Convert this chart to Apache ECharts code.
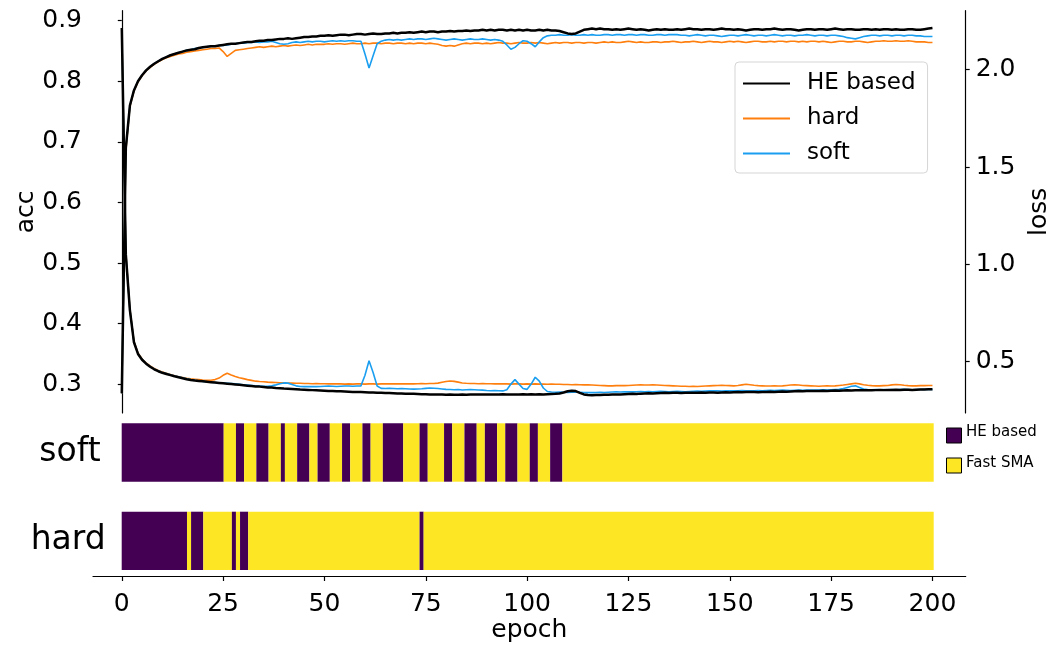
<!DOCTYPE html>
<html>
<head>
<meta charset="utf-8">
<script src="https://cdn.jsdelivr.net/npm/echarts@6/dist/echarts.min.js"></script>
<style>
html, body { margin: 0; padding: 0; background: #fff; }
#container { width: 1050px; height: 645px; }
</style>
</head>
<body>
<div id="container"></div>
<script>
// acc per epoch (0..200)
var accHE = [
    0.285, 0.690, 0.760, 0.785, 0.800, 0.810, 0.818, 0.824, 0.829, 0.833,
    0.837, 0.840, 0.843, 0.845, 0.847, 0.849, 0.851, 0.852, 0.853, 0.855,
    0.856, 0.857, 0.858, 0.858, 0.859, 0.860, 0.861, 0.862, 0.862, 0.863,
    0.864, 0.865, 0.865, 0.866, 0.867, 0.867, 0.868, 0.868, 0.869, 0.870,
    0.870, 0.871, 0.870, 0.871, 0.872, 0.873, 0.873, 0.874, 0.874, 0.875,
    0.875, 0.876, 0.875, 0.876, 0.877, 0.877, 0.876, 0.877, 0.878, 0.878,
    0.877, 0.878, 0.879, 0.878, 0.878, 0.879, 0.879, 0.880, 0.879, 0.880,
    0.880, 0.881, 0.880, 0.881, 0.882, 0.881, 0.882, 0.882, 0.881, 0.882,
    0.882, 0.883, 0.882, 0.883, 0.883, 0.884, 0.883, 0.884, 0.884, 0.885,
    0.884, 0.885, 0.884, 0.885, 0.885, 0.884, 0.885, 0.884, 0.885, 0.884,
    0.885, 0.884, 0.884, 0.885, 0.884, 0.885, 0.884, 0.884, 0.883, 0.881,
    0.879, 0.878, 0.879, 0.882, 0.885, 0.886, 0.887, 0.886, 0.887, 0.886,
    0.886, 0.885, 0.886, 0.885, 0.886, 0.887, 0.886, 0.885, 0.886, 0.885,
    0.884, 0.885, 0.886, 0.885, 0.886, 0.885, 0.885, 0.886, 0.885, 0.886,
    0.887, 0.886, 0.886, 0.885, 0.886, 0.886, 0.885, 0.886, 0.887, 0.886,
    0.886, 0.885, 0.886, 0.885, 0.884, 0.885, 0.886, 0.886, 0.885, 0.886,
    0.886, 0.887, 0.886, 0.885, 0.886, 0.886, 0.885, 0.884, 0.885, 0.886,
    0.886, 0.885, 0.886, 0.886, 0.885, 0.886, 0.887, 0.886, 0.885, 0.886,
    0.886, 0.885, 0.885, 0.886, 0.886, 0.885, 0.886, 0.885, 0.886, 0.886,
    0.885, 0.886, 0.885, 0.885, 0.886, 0.886, 0.885, 0.885, 0.886, 0.887,
    0.888
];
var accHard = [
    0.285, 0.685, 0.758, 0.784, 0.799, 0.809, 0.817, 0.823, 0.828, 0.832,
    0.836, 0.839, 0.841, 0.843, 0.845, 0.846, 0.848, 0.849, 0.850, 0.851,
    0.852, 0.853, 0.854, 0.854, 0.855, 0.849, 0.841, 0.846, 0.851, 0.852,
    0.853, 0.854, 0.855, 0.856, 0.857, 0.856, 0.857, 0.858, 0.857, 0.858,
    0.859, 0.858, 0.859, 0.860, 0.859, 0.860, 0.861, 0.860, 0.861, 0.861,
    0.861, 0.862, 0.861, 0.862, 0.862, 0.861, 0.862, 0.863, 0.862, 0.862,
    0.863, 0.862, 0.863, 0.863, 0.862, 0.863, 0.863, 0.862, 0.863, 0.863,
    0.862, 0.863, 0.862, 0.863, 0.863, 0.862, 0.863, 0.862, 0.861, 0.859,
    0.858, 0.859, 0.858, 0.860, 0.862, 0.863, 0.862, 0.863, 0.863, 0.862,
    0.863, 0.862, 0.863, 0.864, 0.863, 0.863, 0.862, 0.863, 0.864, 0.863,
    0.863, 0.864, 0.863, 0.864, 0.863, 0.862, 0.863, 0.864, 0.863, 0.864,
    0.864, 0.863, 0.864, 0.864, 0.863, 0.864, 0.864, 0.863, 0.864, 0.865,
    0.864, 0.865, 0.864, 0.864, 0.865, 0.866, 0.865, 0.864, 0.865, 0.864,
    0.864, 0.865, 0.865, 0.864, 0.865, 0.865, 0.866, 0.865, 0.864, 0.865,
    0.865, 0.866, 0.865, 0.864, 0.865, 0.866, 0.865, 0.865, 0.864, 0.865,
    0.866, 0.865, 0.866, 0.865, 0.864, 0.865, 0.866, 0.866, 0.865, 0.865,
    0.866, 0.865, 0.866, 0.866, 0.865, 0.866, 0.866, 0.865, 0.866, 0.865,
    0.866, 0.866, 0.865, 0.866, 0.865, 0.864, 0.865, 0.866, 0.866, 0.865,
    0.865, 0.866, 0.866, 0.865, 0.864, 0.865, 0.866, 0.866, 0.867, 0.866,
    0.866, 0.867, 0.866, 0.866, 0.867, 0.866, 0.865, 0.865, 0.865, 0.864,
    0.864
];
var accSoft = [
    0.285, 0.688, 0.759, 0.785, 0.800, 0.810, 0.818, 0.824, 0.829, 0.833,
    0.837, 0.840, 0.843, 0.845, 0.847, 0.849, 0.851, 0.852, 0.854, 0.855,
    0.856, 0.857, 0.858, 0.858, 0.859, 0.859, 0.860, 0.861, 0.862, 0.863,
    0.863, 0.864, 0.864, 0.865, 0.864, 0.865, 0.865, 0.866, 0.864, 0.862,
    0.861, 0.862, 0.864, 0.865, 0.864, 0.865, 0.866, 0.865, 0.866, 0.866,
    0.865, 0.866, 0.867, 0.866, 0.867, 0.866, 0.867, 0.867, 0.866, 0.866,
    0.845, 0.822, 0.842, 0.862, 0.866, 0.868, 0.869, 0.868, 0.869, 0.868,
    0.869, 0.870, 0.869, 0.870, 0.870, 0.869, 0.870, 0.871, 0.870, 0.869,
    0.868, 0.869, 0.870, 0.869, 0.868, 0.869, 0.870, 0.869, 0.869, 0.870,
    0.869, 0.868, 0.869, 0.868, 0.866, 0.860, 0.853, 0.856, 0.862, 0.867,
    0.866, 0.862, 0.857, 0.865, 0.872, 0.875, 0.876, 0.876, 0.877, 0.876,
    0.876, 0.877, 0.876, 0.876, 0.877, 0.876, 0.877, 0.876, 0.876, 0.877,
    0.877, 0.876, 0.877, 0.877, 0.876, 0.877, 0.877, 0.876, 0.877, 0.877,
    0.876, 0.876, 0.877, 0.877, 0.876, 0.877, 0.877, 0.877, 0.876, 0.876,
    0.875, 0.876, 0.877, 0.876, 0.875, 0.876, 0.876, 0.875, 0.874, 0.875,
    0.876, 0.876, 0.875, 0.876, 0.877, 0.876, 0.875, 0.876, 0.876, 0.875,
    0.876, 0.877, 0.876, 0.875, 0.876, 0.876, 0.875, 0.876, 0.876, 0.877,
    0.876, 0.875, 0.876, 0.876, 0.875, 0.876, 0.876, 0.875, 0.874, 0.872,
    0.871, 0.870, 0.872, 0.874, 0.875, 0.876, 0.876, 0.875, 0.876, 0.876,
    0.875, 0.876, 0.876, 0.875, 0.876, 0.876, 0.875, 0.875, 0.874, 0.874,
    0.874
];

// loss per epoch (0..200)
var lossHE = [
    2.214, 1.050, 0.765, 0.600, 0.540, 0.510, 0.490, 0.474, 0.461, 0.451,
    0.443, 0.437, 0.431, 0.425, 0.420, 0.415, 0.410, 0.406, 0.403, 0.401,
    0.399, 0.397, 0.395, 0.393, 0.391, 0.389, 0.387, 0.385, 0.383, 0.381,
    0.379, 0.377, 0.375, 0.373, 0.372, 0.370, 0.368, 0.367, 0.365, 0.364,
    0.362, 0.361, 0.360, 0.359, 0.357, 0.356, 0.355, 0.354, 0.353, 0.352,
    0.351, 0.350, 0.349, 0.348, 0.348, 0.347, 0.346, 0.345, 0.344, 0.344,
    0.343, 0.342, 0.342, 0.341, 0.340, 0.339, 0.339, 0.338, 0.337, 0.337,
    0.336, 0.335, 0.335, 0.334, 0.333, 0.333, 0.332, 0.332, 0.331, 0.331,
    0.330, 0.331, 0.330, 0.330, 0.331, 0.330, 0.331, 0.332, 0.331, 0.331,
    0.332, 0.331, 0.331, 0.332, 0.333, 0.332, 0.332, 0.331, 0.332, 0.333,
    0.332, 0.333, 0.332, 0.333, 0.332, 0.333, 0.334, 0.335, 0.337, 0.342,
    0.348, 0.351, 0.349, 0.340, 0.332, 0.329, 0.328, 0.329, 0.329, 0.330,
    0.330, 0.331, 0.332, 0.332, 0.333, 0.334, 0.335, 0.334, 0.336, 0.337,
    0.338, 0.337, 0.338, 0.339, 0.340, 0.339, 0.340, 0.340, 0.339, 0.340,
    0.341, 0.340, 0.341, 0.342, 0.341, 0.342, 0.342, 0.341, 0.342, 0.343,
    0.342, 0.343, 0.344, 0.343, 0.344, 0.345, 0.344, 0.343, 0.344, 0.345,
    0.346, 0.345, 0.346, 0.347, 0.346, 0.347, 0.348, 0.349, 0.348, 0.349,
    0.350, 0.349, 0.350, 0.351, 0.350, 0.351, 0.352, 0.351, 0.352, 0.353,
    0.352, 0.353, 0.354, 0.353, 0.354, 0.353, 0.354, 0.355, 0.354, 0.355,
    0.355, 0.356, 0.355, 0.356, 0.356, 0.355, 0.356, 0.357, 0.357, 0.358,
    0.359
];
var lossHard = [
    2.214, 1.060, 0.770, 0.605, 0.545, 0.514, 0.494, 0.478, 0.465, 0.455,
    0.447, 0.440, 0.434, 0.428, 0.423, 0.419, 0.415, 0.412, 0.410, 0.408,
    0.406, 0.405, 0.405, 0.408, 0.416, 0.430, 0.441, 0.432, 0.424, 0.418,
    0.413, 0.408, 0.404, 0.400, 0.398, 0.397, 0.395, 0.394, 0.393, 0.392,
    0.391, 0.390, 0.390, 0.389, 0.389, 0.388, 0.388, 0.387, 0.388, 0.387,
    0.387, 0.386, 0.387, 0.386, 0.386, 0.385, 0.386, 0.385, 0.386, 0.386,
    0.385, 0.386, 0.386, 0.385, 0.386, 0.386, 0.387, 0.386, 0.386, 0.387,
    0.386, 0.387, 0.386, 0.387, 0.388, 0.387, 0.388, 0.388, 0.390, 0.394,
    0.398, 0.401, 0.399, 0.395, 0.391, 0.389, 0.388, 0.388, 0.387, 0.388,
    0.387, 0.387, 0.386, 0.387, 0.386, 0.386, 0.385, 0.386, 0.386, 0.385,
    0.386, 0.385, 0.386, 0.385, 0.385, 0.384, 0.385, 0.384, 0.384, 0.383,
    0.383, 0.382, 0.383, 0.382, 0.381, 0.381, 0.380, 0.379, 0.378, 0.377,
    0.376, 0.376, 0.377, 0.378, 0.377, 0.378, 0.379, 0.380, 0.381, 0.380,
    0.380, 0.381, 0.380, 0.379, 0.378, 0.377, 0.376, 0.375, 0.374, 0.374,
    0.373, 0.374, 0.373, 0.374, 0.375, 0.376, 0.377, 0.378, 0.379, 0.378,
    0.377, 0.376, 0.378, 0.381, 0.384, 0.382, 0.379, 0.377, 0.376, 0.375,
    0.375, 0.376, 0.375, 0.376, 0.378, 0.380, 0.382, 0.380, 0.378, 0.377,
    0.376, 0.375, 0.374, 0.375, 0.376, 0.375, 0.376, 0.378, 0.380, 0.383,
    0.386, 0.389, 0.386, 0.382, 0.379, 0.377, 0.376, 0.376, 0.377, 0.378,
    0.381, 0.383, 0.382, 0.379, 0.377, 0.376, 0.376, 0.377, 0.377, 0.378,
    0.378
];
var lossSoft = [
    2.214, 1.055, 0.768, 0.602, 0.542, 0.512, 0.492, 0.476, 0.463, 0.453,
    0.445, 0.439, 0.433, 0.427, 0.422, 0.417, 0.412, 0.408, 0.405, 0.402,
    0.399, 0.397, 0.395, 0.393, 0.391, 0.390, 0.389, 0.388, 0.386, 0.384,
    0.382, 0.380, 0.378, 0.376, 0.375, 0.374, 0.374, 0.376, 0.381, 0.387,
    0.391, 0.390, 0.383, 0.376, 0.373, 0.372, 0.373, 0.372, 0.372, 0.373,
    0.374, 0.375, 0.374, 0.373, 0.374, 0.375, 0.375, 0.374, 0.375, 0.376,
    0.430, 0.505, 0.445, 0.375, 0.363, 0.362, 0.363, 0.362, 0.361, 0.362,
    0.361, 0.360, 0.359, 0.360, 0.361, 0.363, 0.365, 0.364, 0.362, 0.360,
    0.358, 0.357, 0.356, 0.357, 0.355, 0.356, 0.357, 0.356, 0.355, 0.354,
    0.352, 0.351, 0.352, 0.351, 0.350, 0.356, 0.385, 0.408, 0.385, 0.362,
    0.358, 0.385, 0.420, 0.400, 0.365, 0.347, 0.344, 0.343, 0.344, 0.343,
    0.342, 0.343, 0.344, 0.343, 0.342, 0.341, 0.341, 0.342, 0.343, 0.342,
    0.343, 0.344, 0.345, 0.344, 0.345, 0.346, 0.345, 0.346, 0.347, 0.346,
    0.347, 0.346, 0.347, 0.348, 0.347, 0.346, 0.347, 0.348, 0.347, 0.346,
    0.347, 0.348, 0.349, 0.348, 0.349, 0.350, 0.351, 0.350, 0.349, 0.350,
    0.351, 0.350, 0.351, 0.352, 0.351, 0.350, 0.351, 0.352, 0.351, 0.352,
    0.353, 0.352, 0.353, 0.354, 0.353, 0.352, 0.353, 0.354, 0.353, 0.354,
    0.355, 0.354, 0.355, 0.356, 0.355, 0.356, 0.357, 0.358, 0.362, 0.368,
    0.374, 0.376, 0.368, 0.360, 0.357, 0.356, 0.357, 0.356, 0.357, 0.356,
    0.357, 0.356, 0.357, 0.358, 0.357, 0.356, 0.357, 0.357, 0.358, 0.357,
    0.358
];

// epochs where the "HE based" branch was chosen, as [start, end) runs
var softHERuns = [[0, 25], [28, 30], [33, 36], [39, 40], [43, 46], [48, 51], [54, 56], [59, 61],
    [64, 69], [73, 75], [79, 81], [84, 87], [89, 92], [94, 97], [100, 102], [105, 108]];
var hardHERuns = [[0, 16], [17, 20], [27, 28], [29, 31], [73, 74]];
var nCells = 199;

var epochTicks = [0, 25, 50, 75, 100, 125, 150, 175, 200];
var accTicks = [0.3, 0.4, 0.5, 0.6, 0.7, 0.8, 0.9];
var lossTicks = [0.5, 1.0, 1.5, 2.0];

var FONT = 'DejaVu Sans';
var PURPLE = '#440154';
var YELLOW = '#fde725';
var colors = { 'HE based': '#000000', 'hard': '#ff7f0e', 'soft': '#1a9ef0' };

// fill gaps between HE runs with the other state (1 = Fast SMA)
function toRuns(heRuns) {
    var out = [];
    var pos = 0;
    heRuns.forEach(function (r) {
        if (r[0] > pos) out.push([pos, r[0], 1, 0]);
        out.push([r[0], r[1], 0, 0]);
        pos = r[1];
    });
    if (pos < nCells) out.push([pos, nCells, 1, 0]);
    return out;
}

function renderRun(params, api) {
    var a = api.coord([api.value(0), api.value(3)]);
    var b = api.coord([api.value(1), api.value(3)]);
    var h = api.size([0, 1])[1];
    return {
        type: 'rect',
        shape: { x: a[0], y: a[1] - h / 2, width: b[0] - a[0], height: h },
        style: { fill: api.value(2) === 0 ? PURPLE : YELLOW }
    };
}

function pairs(arr) {
    return arr.map(function (v, i) { return [i, v]; });
}

function lineSeries(name, arr, yIndex) {
    return {
        name: name,
        type: 'line',
        xAxisIndex: 0,
        yAxisIndex: yIndex,
        data: pairs(arr),
        symbol: 'none',
        lineStyle: { color: colors[name], width: name === 'HE based' ? 2.5 : 1.6 },
        itemStyle: { color: colors[name] },
        z: name === 'HE based' ? 3 : 2
    };
}

var axisLineStyle = { color: '#000', width: 1.2 };

var dom = document.getElementById("container");
var myChart = echarts.init(dom);
var option = {
    animation: false,
    textStyle: { fontFamily: FONT },
    grid: [
        { left: 93, right: 84.3, top: 10.7, height: 402.3, outerBoundsMode: 'none', containLabel: false },
        { left: 121.7, width: 812, top: 423.3, height: 58.4, outerBoundsMode: 'none', containLabel: false },
        { left: 121.7, width: 812, top: 511.7, height: 58.3, outerBoundsMode: 'none', containLabel: false },
        { left: 93, right: 84.3, top: 575, height: 1, outerBoundsMode: 'none', containLabel: false }
    ],
    legend: {
        data: ['HE based', 'hard', 'soft'],
        orient: 'vertical',
        left: 735,
        top: 62,
        padding: [10, 12, 8, 8],
        icon: 'rect',
        itemWidth: 47,
        itemHeight: 2,
        itemGap: 12,
        borderColor: '#d5d5d5',
        borderWidth: 1,
        borderRadius: 4,
        backgroundColor: '#fff',
        textStyle: { fontSize: 23, color: '#000', fontFamily: FONT, padding: [0, 0, 0, 12] }
    },
    xAxis: [
        { gridIndex: 0, type: 'value', min: -7.1, max: 208.2, show: false },
        { gridIndex: 1, type: 'value', min: 0, max: nCells, show: false },
        { gridIndex: 2, type: 'value', min: 0, max: nCells, show: false },
        {
            gridIndex: 3, type: 'value', min: -7.1, max: 208.2, position: 'bottom',
            axisLine: { show: true, onZero: false, lineStyle: axisLineStyle },
            axisTick: { show: true, length: 5, customValues: epochTicks, lineStyle: axisLineStyle },
            axisLabel: { customValues: epochTicks, fontSize: 25, color: '#000', margin: 16, fontFamily: FONT },
            splitLine: { show: false },
            name: 'epoch', nameLocation: 'middle', nameGap: 40,
            nameTextStyle: { fontSize: 25, color: '#000', fontFamily: FONT }
        }
    ],
    yAxis: [
        {
            gridIndex: 0, type: 'value', min: 0.2526, max: 0.9165, position: 'left',
            axisLine: { show: true, lineStyle: axisLineStyle },
            axisTick: { show: true, length: 4, customValues: accTicks, lineStyle: axisLineStyle },
            axisLabel: {
                customValues: accTicks, fontSize: 25, color: '#000', margin: 11, fontFamily: FONT,
                formatter: function (v) { return v.toFixed(1); }
            },
            splitLine: { show: false },
            name: 'acc', nameLocation: 'middle', nameRotate: 90, nameGap: 54, nameMoveOverlap: false,
            nameTextStyle: { fontSize: 25, color: '#000', fontFamily: FONT }
        },
        {
            gridIndex: 0, type: 'value', min: 0.2365, max: 2.303, position: 'right',
            axisLine: { show: true, lineStyle: axisLineStyle },
            axisTick: { show: true, length: 4, customValues: lossTicks, lineStyle: axisLineStyle },
            axisLabel: {
                customValues: lossTicks, fontSize: 25, color: '#000', margin: 10, fontFamily: FONT,
                formatter: function (v) { return v.toFixed(1); }
            },
            splitLine: { show: false },
            name: 'loss', nameLocation: 'middle', nameRotate: 90, nameGap: 61,
            nameTextStyle: { fontSize: 25, color: '#000', fontFamily: FONT }
        },
        {
            gridIndex: 1, type: 'category', data: ['soft'],
            axisLine: { show: false }, axisTick: { show: false },
            axisLabel: { fontSize: 33, color: '#000', margin: 21, fontFamily: FONT }
        },
        {
            gridIndex: 2, type: 'category', data: ['hard'],
            axisLine: { show: false }, axisTick: { show: false },
            axisLabel: { fontSize: 33, color: '#000', margin: 16, fontFamily: FONT }
        },
        { gridIndex: 3, type: 'value', show: false }
    ],
    graphic: [
        { type: 'rect', left: 946, top: 427.5, shape: { width: 15, height: 15 }, style: { fill: PURPLE, stroke: '#000', lineWidth: 1 } },
        { type: 'text', left: 966, top: 425, style: { text: 'HE based', font: '15px "DejaVu Sans"', fill: '#000' } },
        { type: 'rect', left: 946, top: 457.5, shape: { width: 15, height: 15 }, style: { fill: YELLOW, stroke: '#000', lineWidth: 1 } },
        { type: 'text', left: 966, top: 455.5, style: { text: 'Fast SMA', font: '15px "DejaVu Sans"', fill: '#000' } }
    ],
    series: [
        lineSeries('HE based', accHE, 0),
        lineSeries('hard', accHard, 0),
        lineSeries('soft', accSoft, 0),
        lineSeries('HE based', lossHE, 1),
        lineSeries('hard', lossHard, 1),
        lineSeries('soft', lossSoft, 1),
        {
            name: 'soft choice', type: 'custom', xAxisIndex: 1, yAxisIndex: 2,
            data: toRuns(softHERuns), encode: { x: [0, 1], y: 3 }, renderItem: renderRun
        },
        {
            name: 'hard choice', type: 'custom', xAxisIndex: 2, yAxisIndex: 3,
            data: toRuns(hardHERuns), encode: { x: [0, 1], y: 3 }, renderItem: renderRun
        }
    ]
};

if (option && typeof option === "object") {
    myChart.setOption(option, true);
}
</script>
</body>
</html>
